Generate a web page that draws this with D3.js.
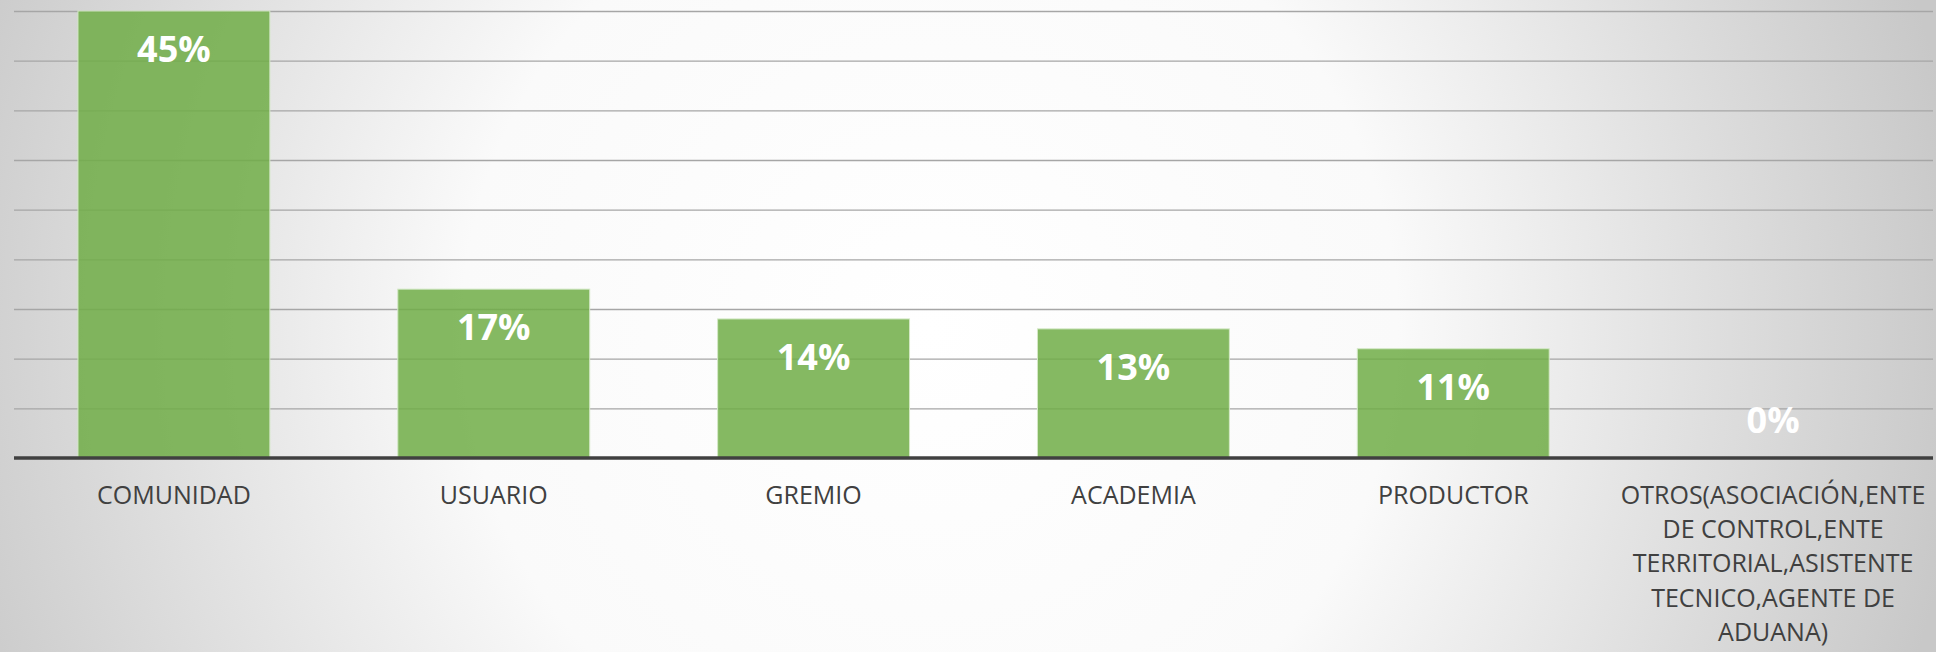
<!DOCTYPE html>
<html>
<head>
<meta charset="utf-8">
<script src="https://cdnjs.cloudflare.com/ajax/libs/d3/7.8.5/d3.min.js"></script>
<style>
  html, body { margin: 0; padding: 0; background: #ffffff; }
  svg { display: block; font-family: 'Open Sans', 'Noto Sans', sans-serif; }
</style>
</head>
<body>
<div id="chart"></div>
<script>
'use strict';

// chart data
var categories = ['COMUNIDAD', 'USUARIO', 'GREMIO', 'ACADEMIA', 'PRODUCTOR',
  'OTROS(ASOCIACIÓN,ENTE DE CONTROL,ENTE TERRITORIAL,ASISTENTE TECNICO,AGENTE DE ADUANA)'];
var values = [0.45, 0.17, 0.14, 0.13, 0.11, 0.00];
var gridTicks = [0, 0.05, 0.10, 0.15, 0.20, 0.25, 0.30, 0.35, 0.40, 0.45];

var width = 1936, height = 652;
var margin = { top: 11, right: 3, bottom: 194, left: 14 };
var innerW = width - margin.left - margin.right,
    innerH = height - margin.top - margin.bottom;

var svg = d3.select('#chart')
            .append('svg')
            .attr('width', width)
            .attr('height', height);

// soft radial background, white in the middle, grey at the sides
var defs = svg.append('defs');
var grad = defs.append('radialGradient')
               .attr('id', 'bg')
               .attr('gradientUnits', 'userSpaceOnUse')
               .attr('cx', 930).attr('cy', 330)
               .attr('r', 1040);
grad.append('stop').attr('offset', '0%').attr('stop-color', '#ffffff');
grad.append('stop').attr('offset', '45%').attr('stop-color', '#fafafa');
grad.append('stop').attr('offset', '100%').attr('stop-color', '#c8c8c8');

svg.append('rect')
   .attr('width', width)
   .attr('height', height)
   .attr('fill', 'url(#bg)');

var g = svg.append('g')
           .attr('transform', 'translate(' + margin.left + ',' + margin.top + ')');

var x = d3.scaleBand()
          .domain(categories)
          .range([0, innerW])
          .paddingInner(0.4)
          .paddingOuter(0.2);

var y = d3.scaleLinear()
          .domain([0, 0.45])
          .range([innerH, 0]);

// gridlines
g.append('g')
 .call(d3.axisLeft(y).tickValues(gridTicks.slice(1)).tickSize(-innerW).tickFormat(''))
 .call(function (sel) {
   sel.select('.domain').remove();
   sel.selectAll('.tick line').attr('stroke', '#a6a6a6').attr('stroke-width', 1.3);
 });

// bars
g.selectAll('rect.bar')
 .data(values)
 .enter()
 .append('rect')
 .attr('class', 'bar')
 .attr('x', function (d, i) { return x(categories[i]); })
 .attr('y', function (d) { return y(d); })
 .attr('width', x.bandwidth())
 .attr('height', function (d) { return innerH - y(d); })
 .attr('fill', '#70ad47')
 .attr('fill-opacity', 0.85)
 .attr('stroke', '#d4e8c6')
 .attr('stroke-width', 1)
 .style('display', function (d) { return d > 0 ? null : 'none'; });

// value labels
var fmt = d3.format('.0%');
g.selectAll('text.val')
 .data(values)
 .enter()
 .append('text')
 .attr('class', 'val')
 .attr('x', function (d, i) { return x(categories[i]) + x.bandwidth() / 2; })
 .attr('y', function (d) { return d > 0 ? y(d) + 51 : y(d) - 25; })
 .attr('text-anchor', 'middle')
 .attr('fill', '#ffffff')
 .attr('font-weight', 'bold')
 .attr('font-size', 36)
 .text(function (d) { return fmt(d); });

// x axis line
g.append('line')
 .attr('x1', 0).attr('x2', innerW)
 .attr('y1', innerH).attr('y2', innerH)
 .attr('stroke', '#404040')
 .attr('stroke-width', 3.5);

// category labels, wrapped to the band width
var catG = g.append('g').attr('transform', 'translate(0,' + innerH + ')');
categories.forEach(function (c) {
  var t = catG.append('text')
              .attr('x', x(c) + x.bandwidth() / 2)
              .attr('y', 46)
              .attr('text-anchor', 'middle')
              .attr('fill', '#404040')
              .attr('font-size', 25);
  var words = c.split(' '), line = [];
  var tspan = t.append('tspan').attr('x', x(c) + x.bandwidth() / 2);
  words.forEach(function (w) {
    line.push(w);
    tspan.text(line.join(' '));
    if (tspan.node().getComputedTextLength() > x.step() - 10 && line.length > 1) {
      line.pop();
      tspan.text(line.join(' '));
      line = [w];
      tspan = t.append('tspan')
               .attr('x', x(c) + x.bandwidth() / 2)
               .attr('dy', 34.2)
               .text(w);
    }
  });
});
</script>
</body>
</html>
